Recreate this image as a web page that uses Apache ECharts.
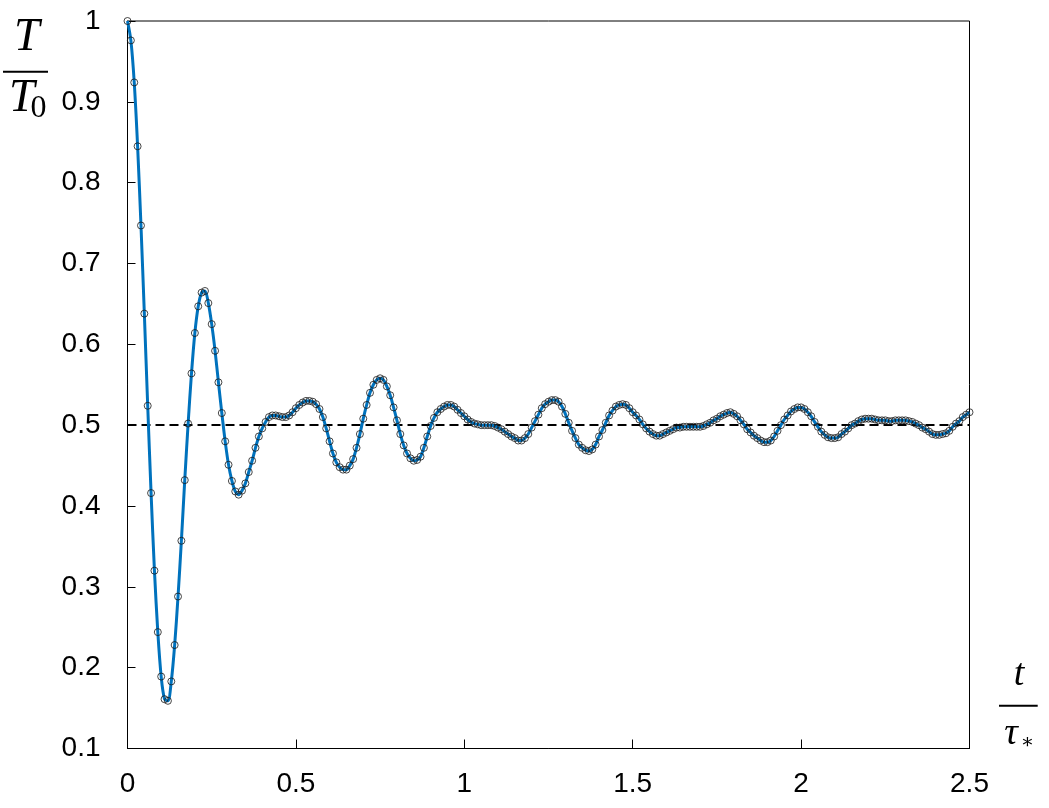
<!DOCTYPE html>
<html>
<head>
<meta charset="utf-8">
<script src="https://cdn.jsdelivr.net/npm/echarts@6/dist/echarts.min.js"></script>
<style>
  html, body { margin: 0; padding: 0; background: #ffffff; }
  #chart { width: 1049px; height: 808px; }
</style>
</head>
<body>
<div id="chart"></div>
<script>
// Sampling step of the dimensionless time t/tau*
const timeStep = 0.01;
const sampleCount = 251;

// T/T0 at t/tau* = 0, 0.01, ..., 2.5
const temperatureRatio = [
  1.000, 0.976, 0.924, 0.845, 0.747, 0.638, 0.524, 0.416, 0.320, 0.244,
  0.189, 0.161, 0.159, 0.183, 0.228, 0.288, 0.357, 0.432, 0.502, 0.564,
  0.614, 0.647, 0.664, 0.666, 0.651, 0.625, 0.592, 0.553, 0.515, 0.480,
  0.451, 0.431, 0.418, 0.414, 0.419, 0.428, 0.442, 0.456, 0.472, 0.486,
  0.496, 0.504, 0.510, 0.512, 0.512, 0.511, 0.510, 0.510, 0.512, 0.516,
  0.521, 0.525, 0.528, 0.530, 0.530, 0.529, 0.526, 0.520, 0.510, 0.496,
  0.480, 0.465, 0.454, 0.448, 0.445, 0.445, 0.450, 0.458, 0.472, 0.489,
  0.508, 0.525, 0.540, 0.550, 0.556, 0.558, 0.556, 0.548, 0.537, 0.522,
  0.506, 0.489, 0.475, 0.465, 0.459, 0.456, 0.457, 0.461, 0.472, 0.486,
  0.499, 0.509, 0.516, 0.520, 0.523, 0.525, 0.525, 0.523, 0.519, 0.515,
  0.511, 0.507, 0.504, 0.502, 0.501, 0.500, 0.500, 0.500, 0.500, 0.499,
  0.497, 0.495, 0.492, 0.489, 0.486, 0.484, 0.481, 0.481, 0.484, 0.489,
  0.497, 0.505, 0.513, 0.521, 0.526, 0.529, 0.531, 0.531, 0.529, 0.523,
  0.514, 0.503, 0.493, 0.484, 0.476, 0.472, 0.469, 0.468, 0.470, 0.476,
  0.486, 0.494, 0.503, 0.512, 0.518, 0.523, 0.525, 0.526, 0.525, 0.521,
  0.516, 0.512, 0.507, 0.501, 0.496, 0.492, 0.489, 0.487, 0.487, 0.489,
  0.491, 0.493, 0.495, 0.497, 0.497, 0.498, 0.498, 0.498, 0.498, 0.498,
  0.498, 0.499, 0.501, 0.503, 0.506, 0.508, 0.511, 0.513, 0.515, 0.516,
  0.514, 0.511, 0.506, 0.501, 0.495, 0.491, 0.487, 0.484, 0.481, 0.479,
  0.479, 0.481, 0.486, 0.493, 0.500, 0.507, 0.512, 0.517, 0.520, 0.522,
  0.522, 0.520, 0.516, 0.511, 0.504, 0.498, 0.492, 0.488, 0.485, 0.484,
  0.484, 0.485, 0.489, 0.492, 0.496, 0.500, 0.502, 0.505, 0.507, 0.508,
  0.508, 0.508, 0.507, 0.506, 0.506, 0.506, 0.505, 0.505, 0.506, 0.506,
  0.506, 0.506, 0.505, 0.504, 0.502, 0.500, 0.497, 0.495, 0.492, 0.489,
  0.488, 0.488, 0.489, 0.490, 0.493, 0.498, 0.502, 0.505, 0.510, 0.513,
  0.516
];

// Equilibrium level (dashed reference line)
const equilibriumLevel = 0.5;

// Axis ranges / tick steps
const xTicks = [0, 0.5, 1, 1.5, 2, 2.5];
const yTicks = [0.1, 0.2, 0.3, 0.4, 0.5, 0.6, 0.7, 0.8, 0.9, 1];

const points = [];
for (let i = 0; i < sampleCount; i++) {
  points.push([+(i * timeStep).toFixed(2), temperatureRatio[i]]);
}

const chart = echarts.init(document.getElementById('chart'), null, { renderer: 'canvas' });

const labelFont = {
  color: '#000',
  fontFamily: 'Liberation Sans, Arial, sans-serif',
  fontSize: 28
};

const option = {
  backgroundColor: '#ffffff',
  animation: false,
  grid: {
    left: 127.5, right: 79.5, top: 21, bottom: 59.5,
    show: true, borderColor: '#000', borderWidth: 1
  },
  xAxis: {
    type: 'value',
    min: xTicks[0], max: xTicks[xTicks.length - 1], interval: 0.5,
    axisLine: { show: true, onZero: false, lineStyle: { color: '#000', width: 1 } },
    axisTick: { show: true, inside: true, length: 9, lineStyle: { color: '#000', width: 1 } },
    axisLabel: Object.assign({ margin: 22 }, labelFont),
    splitLine: { show: false }
  },
  yAxis: {
    type: 'value',
    min: yTicks[0], max: yTicks[yTicks.length - 1], interval: 0.1,
    axisLine: { show: true, onZero: false, lineStyle: { color: '#000', width: 1 } },
    axisTick: { show: true, inside: true, length: 8, lineStyle: { color: '#000', width: 1 } },
    axisLabel: Object.assign({ margin: 27 }, labelFont),
    splitLine: { show: false }
  },
  series: [
    {
      type: 'line',
      data: points,
      showSymbol: false,
      smooth: 0.3,
      lineStyle: { color: '#0072BD', width: 3 },
      z: 3,
      markLine: {
        silent: true,
        symbol: ['none', 'none'],
        label: { show: false },
        lineStyle: { color: '#000', type: [9, 5], width: 1.8 },
        data: [{ yAxis: equilibriumLevel }],
        z: 2
      }
    },
    {
      type: 'scatter',
      data: points,
      symbol: 'circle',
      symbolSize: 7,
      itemStyle: { color: 'rgba(255,255,255,0)', borderColor: '#1a1a1a', borderWidth: 1 },
      z: 4
    }
  ],
  graphic: [
    { type: 'text', left: 'auto', x: 26.7, y: 37.5, style: { text: 'T', fontFamily: 'Liberation Serif, serif', fontStyle: 'italic', fontSize: 46, fill: '#000', align: 'center', verticalAlign: 'middle' } },
    { type: 'line', shape: { x1: 3, y1: 71.8, x2: 48, y2: 71.8 }, style: { stroke: '#000', lineWidth: 2 } },
    { type: 'text', x: 21.7, y: 99, style: { text: 'T', fontFamily: 'Liberation Serif, serif', fontStyle: 'italic', fontSize: 46, fill: '#000', align: 'center', verticalAlign: 'middle' } },
    { type: 'text', x: 38.5, y: 108.5, style: { text: '0', fontFamily: 'Liberation Serif, serif', fontSize: 32, fill: '#000', align: 'center', verticalAlign: 'middle' } },
    { type: 'text', x: 1019, y: 675, style: { text: 't', fontFamily: 'Liberation Serif, serif', fontStyle: 'italic', fontSize: 38, fill: '#000', align: 'center', verticalAlign: 'middle' } },
    { type: 'line', shape: { x1: 999, y1: 705.7, x2: 1037.7, y2: 705.7 }, style: { stroke: '#000', lineWidth: 2 } },
    { type: 'text', x: 1011, y: 734, style: { text: 'τ', fontFamily: 'Liberation Serif, serif', fontStyle: 'italic', fontSize: 38, fill: '#000', align: 'center', verticalAlign: 'middle' } },
    { type: 'text', x: 1027.5, y: 743, style: { text: '∗', fontFamily: 'DejaVu Serif, serif', fontSize: 20, fill: '#000', align: 'center', verticalAlign: 'middle' } }
  ]
};

chart.setOption(option);
</script>
</body>
</html>
